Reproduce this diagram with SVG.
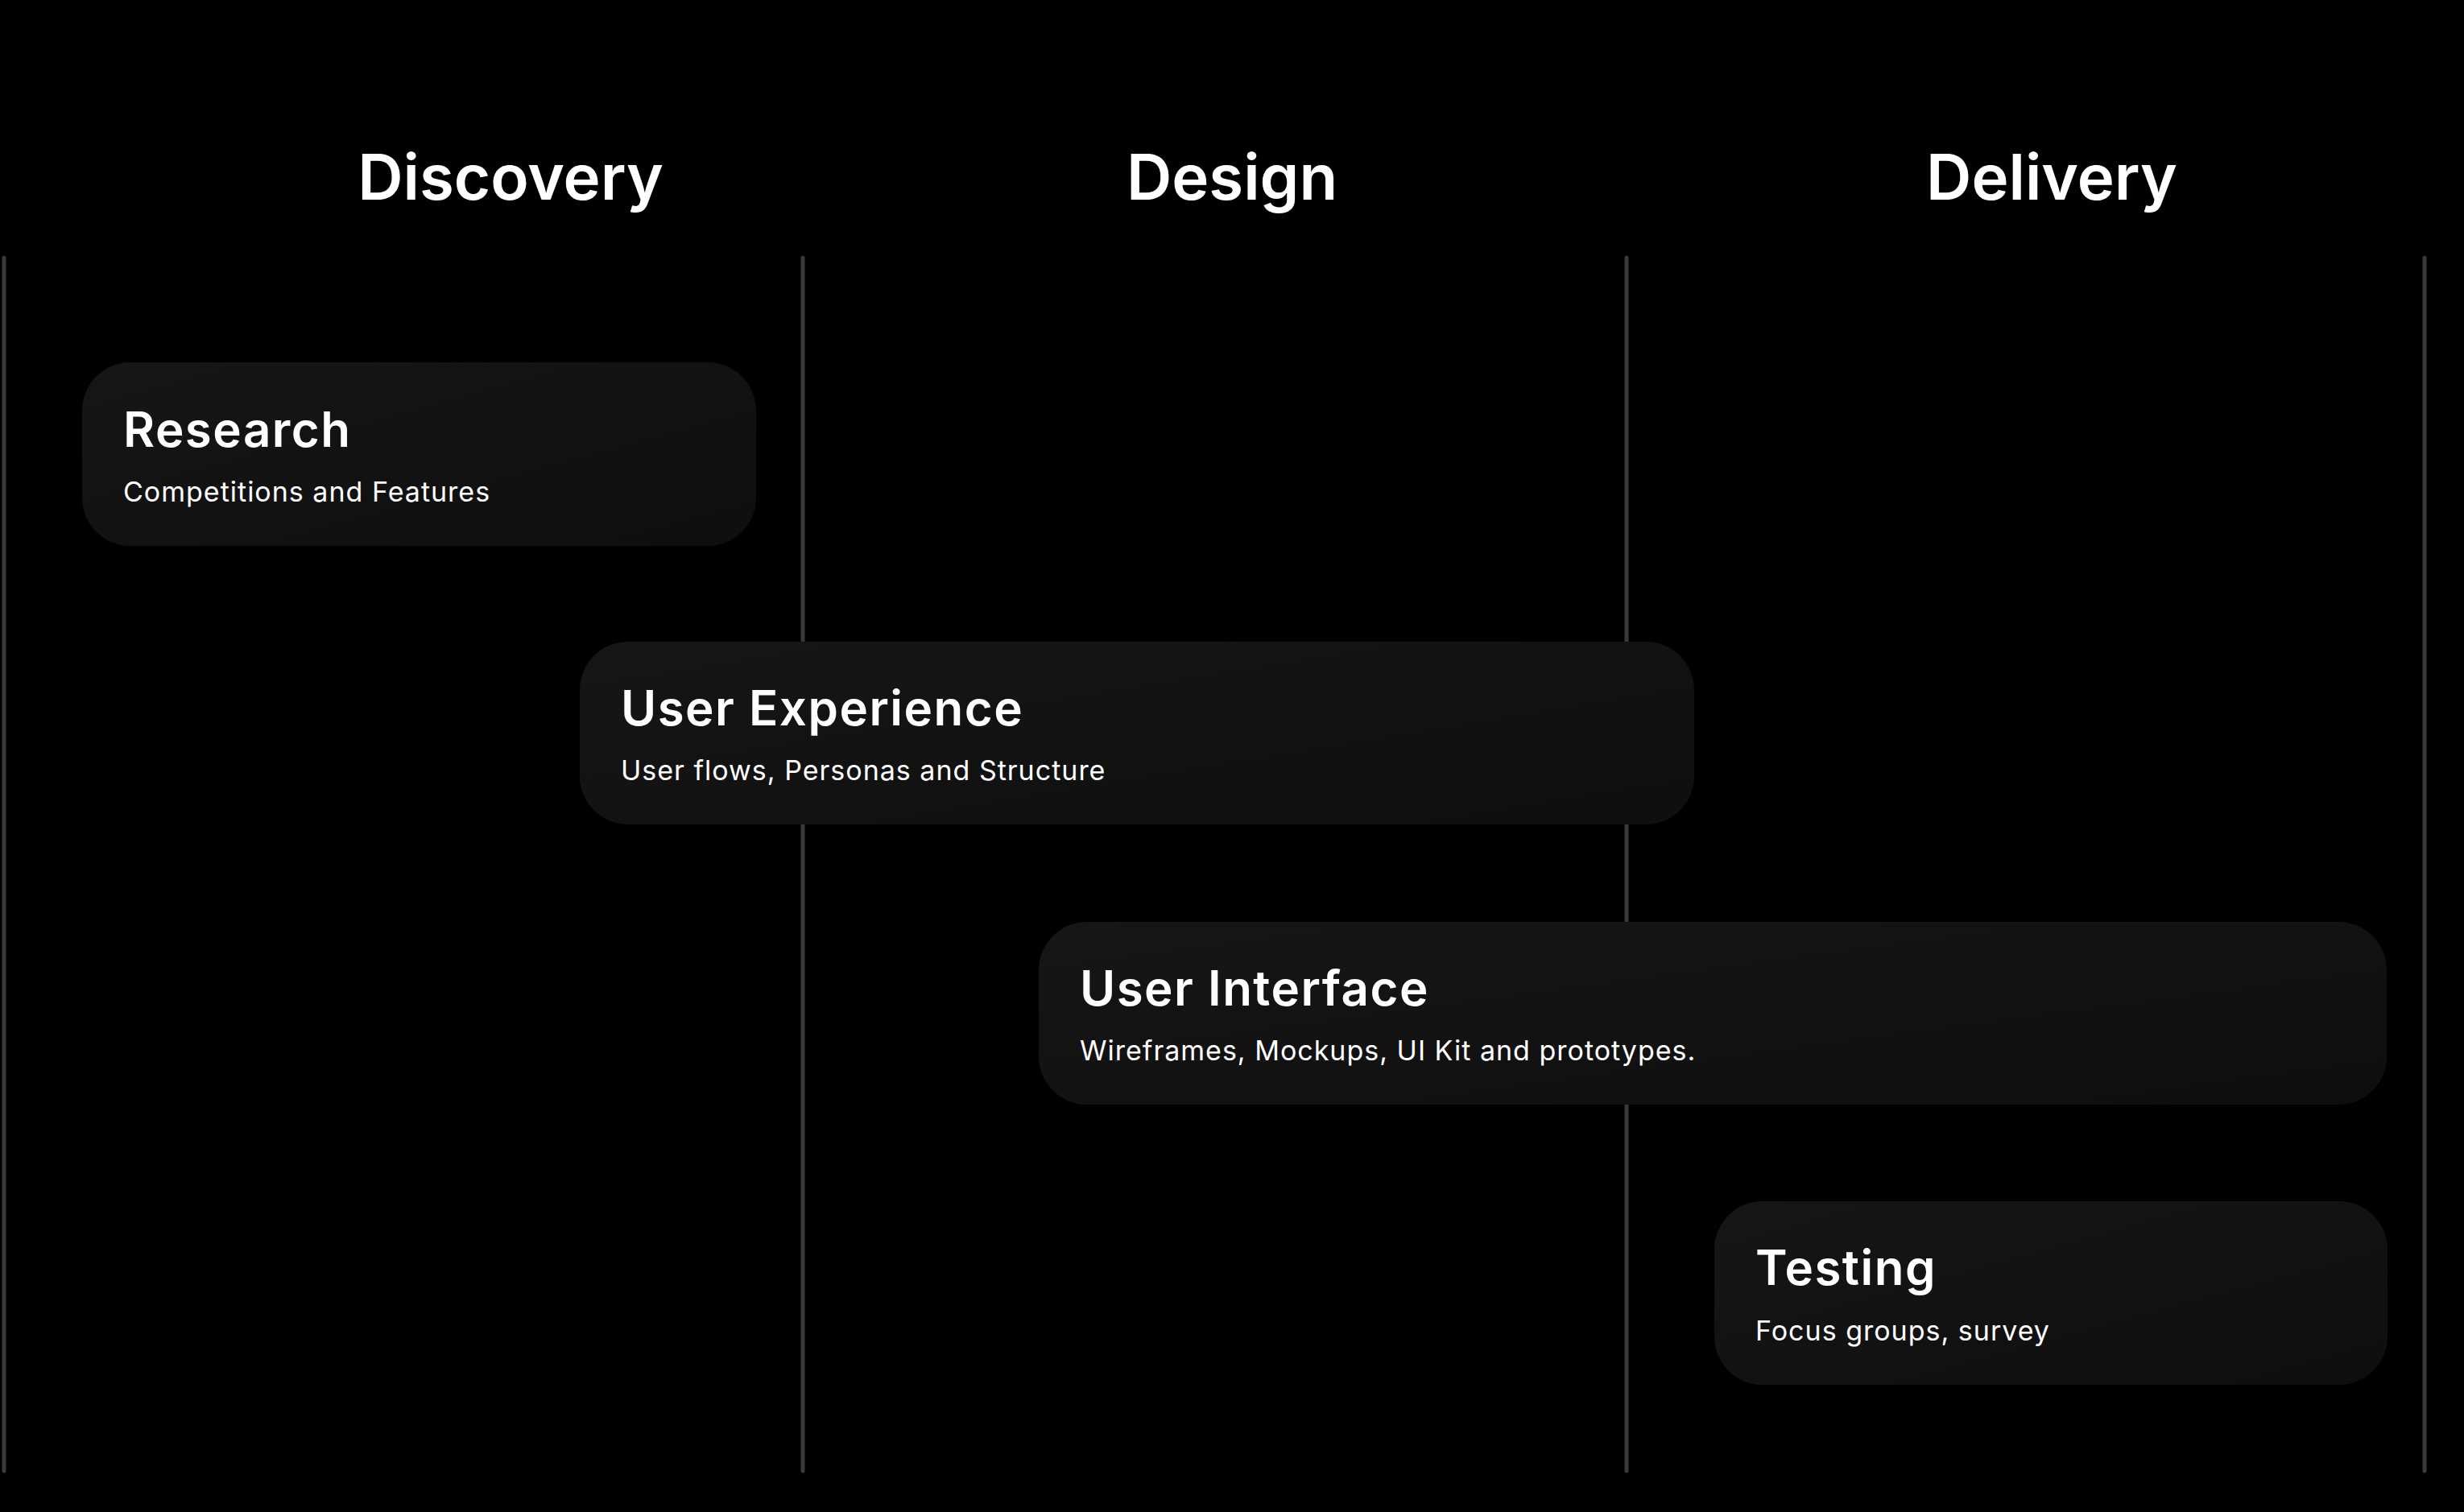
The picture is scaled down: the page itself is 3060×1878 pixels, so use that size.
<svg xmlns="http://www.w3.org/2000/svg" width="3060" height="1878" viewBox="0 0 3060 1878">
<defs>
<linearGradient id="card" x1="0" y1="0" x2="1" y2="1">
<stop offset="0" stop-color="#161616"/>
<stop offset="1" stop-color="#0e0e0e"/>
</linearGradient>
<style>
.col{stroke:#3a3a3a;stroke-width:5;stroke-linecap:round;fill:none}
.head{font-family:Inter,"Noto Sans",sans-serif;font-weight:600;font-size:78px;fill:#ffffff;text-anchor:middle}
.card{fill:url(#card)}
.title{font-family:Inter,"Noto Sans",sans-serif;font-weight:600;font-size:60px;letter-spacing:1.5px;fill:#ffffff}
.sub{font-family:Inter,"Noto Sans",sans-serif;font-weight:400;font-size:34px;letter-spacing:1px;fill:#ffffff}
</style>
</defs>
<rect width="3060" height="1878" fill="#000000"/>
<g id="headings">
<text class="head" x="634" y="248">Discovery</text>
<text class="head" x="1530" y="248">Design</text>
<text class="head" x="2548" y="248">Delivery</text>
</g>
<g id="connectors">
<line class="col" x1="5" y1="320" x2="5" y2="1827"/>
<line class="col" x1="997" y1="320" x2="997" y2="1827"/>
<line class="col" x1="2020" y1="320" x2="2020" y2="1827"/>
<line class="col" x1="3011" y1="320" x2="3011" y2="1827"/>
</g>
<g id="research">
<rect class="card" x="102" y="450" width="837" height="228" rx="60"/>
<text class="title" x="153" y="555">Research</text>
<text class="sub" x="153" y="623">Competitions and Features</text>
</g>
<g id="user-experience">
<rect class="card" x="720" y="797" width="1384" height="227" rx="60"/>
<text class="title" x="771" y="901">User Experience</text>
<text class="sub" x="771" y="969">User flows, Personas and Structure</text>
</g>
<g id="user-interface">
<rect class="card" x="1290" y="1145" width="1674" height="227" rx="60"/>
<text class="title" x="1341" y="1249">User Interface</text>
<text class="sub" x="1341" y="1317">Wireframes, Mockups, UI Kit and prototypes.</text>
</g>
<g id="testing">
<rect class="card" x="2129" y="1492" width="836" height="228" rx="60"/>
<text class="title" x="2180" y="1596">Testing</text>
<text class="sub" x="2180" y="1665">Focus groups, survey</text>
</g>
</svg>
